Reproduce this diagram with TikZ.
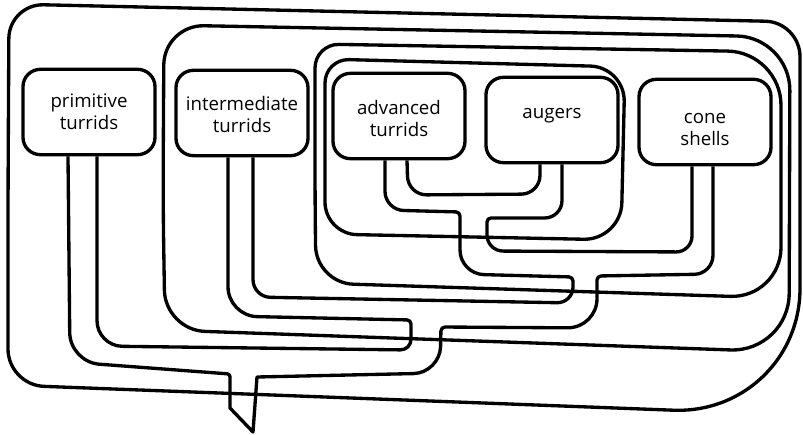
\documentclass[tikz,border=0pt]{standalone}
\usepackage{fontspec}
\setmainfont{Open Sans}
\usetikzlibrary{calc}

\begin{document}
\begin{tikzpicture}[
  x=0.75pt, y=-0.75pt,
  line width=2.5pt, line join=round,
  font=\fontsize{14}{16.5}\selectfont,
  taxon/.style={draw, rounded corners=13pt, minimum width=99pt, minimum height=64pt, align=center, inner sep=2pt}
]
\useasboundingbox (0,0) rectangle (803,435);
% the five groups
\node[taxon] (prim) at (89,112) {primitive\\turrids};
\node[taxon] (inter) at (242,113) {\rule{0pt}{13pt}intermediate\\turrids};
\node[taxon] (adv) at (399,116) {\rule{0pt}{14pt}advanced\\turrids};
\node[taxon] (aug) at (552,120) {\raisebox{3pt}[\height][\depth]{augers}};
\node[taxon] (cone) at (705,122) {\rule{0pt}{19pt}cone\\shells};
% clade outlines, outermost first
\draw (8,200)
  [rounded corners=26pt] -- (9,4) -- (800,22)
  [rounded corners=95pt] -- (800,415)
  [rounded corners=27pt] -- (8,385) -- cycle;
\draw (163,200)
  [rounded corners=30pt] -- (164,25)
  [rounded corners=40pt] -- (790,37)
  [rounded corners=44pt] -- (789,352)
  [rounded corners=30pt] -- (165,330) -- cycle;
\draw (315,200)
  [rounded corners=18pt] -- (315,44)
  [rounded corners=40pt] -- (781,52)
  [rounded corners=38pt] -- (781,298)
  [rounded corners=28pt] -- (316,283) -- cycle;
\draw (325,150)
  [rounded corners=18pt] -- (325,59)
  [rounded corners=26pt] -- (625,67)
  [rounded corners=28pt] -- (621,240)
  [rounded corners=24pt] -- (325,234) -- cycle;
% outer wall of the tree: primitive -> root tail -> cone shells
\draw ($(prim.south)+(-21,0)$)
  [rounded corners=22pt] -- (70,362)
  [rounded corners=2pt] -- (230,374)
  [sharp corners] -- (230,408) -- (253,432) -- (257,377)
  [rounded corners=20pt] -- (440,373)
  [rounded corners=3pt] -- (441,327)
  [rounded corners=22pt] -- (597,328)
  [rounded corners=3pt] -- (597,276)
  [rounded corners=14pt] -- (713,274)
  [sharp corners] -- ($(cone.south)+(8,0)$);
% primitive -> intermediate
\draw ($(prim.south)+(8,0)$)
  [rounded corners=19pt] -- (97,346)
  [rounded corners=8pt] -- (411,350)
  [rounded corners=3pt] -- (411,320)
  [rounded corners=22pt] -- (228,316)
  [sharp corners] -- ($(inter.south)+(-14,0)$);
% intermediate -> advanced
\draw ($(inter.south)+(11,0)$)
  [rounded corners=13pt] -- (253,297)
  [rounded corners=12pt] -- (573,303)
  [rounded corners=3pt] -- (573,277)
  [rounded corners=18pt] -- (460,274)
  [rounded corners=3pt] -- (460,212)
  [rounded corners=14pt] -- (385,210)
  [sharp corners] -- ($(adv.south)+(-14,0)$);
% advanced -> augers
\draw ($(adv.south)+(8,0)$)
  [rounded corners=14pt] -- (408,195) -- (540,194)
  [sharp corners] -- ($(aug.south)+(-12,0)$);
% augers -> cone shells
\draw ($(aug.south)+(10,0)$)
  [rounded corners=13pt] -- (562,218)
  [rounded corners=3pt] -- (487,218)
  [rounded corners=12pt] -- (487,251) -- (692,252)
  [sharp corners] -- ($(cone.south)+(-13,0)$);
\end{tikzpicture}
\end{document}
